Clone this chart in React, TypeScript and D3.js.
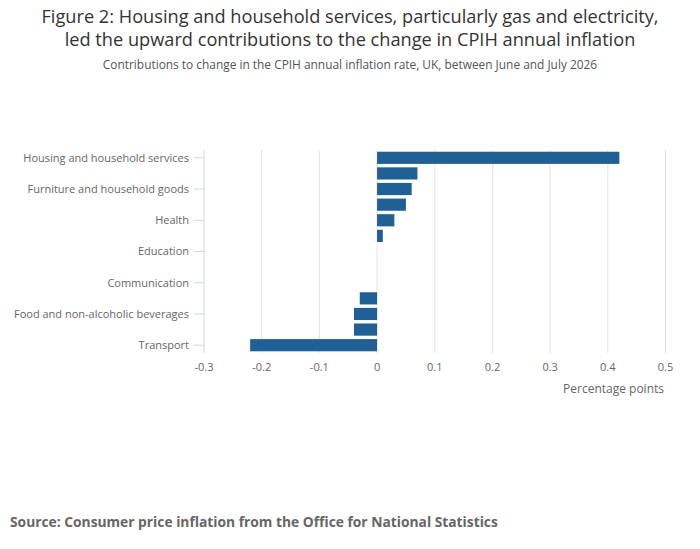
import React from "react";
import * as d3 from "d3";

// categories top to bottom, as ordered in the chart
const categories = [
  "Housing and household services",
  "Recreation and culture",
  "Furniture and household goods",
  "Restaurants and hotels",
  "Health",
  "Alcoholic beverages and tobacco",
  "Education",
  "Miscellaneous goods and services",
  "Communication",
  "Clothing and footwear",
  "Food and non-alcoholic beverages",
  "Insurance and financial services",
  "Transport",
];

// contribution to change, percentage points
const contributions = [0.42, 0.07, 0.06, 0.05, 0.03, 0.01, 0, 0, 0, -0.03, -0.04, -0.04, -0.22];

const xTicks = [-0.3, -0.2, -0.1, 0, 0.1, 0.2, 0.3, 0.4, 0.5];

const W = 700;
const H = 549;
const FONT = "'Open Sans', sans-serif";

export default function App() {
  const x = d3.scaleLinear().domain([-0.3, 0.5]).range([204, 665.5]);
  const y = d3
    .scaleBand()
    .domain(categories)
    .range([150, 353])
    .paddingInner(0.22)
    .paddingOuter(0.11);

  const labelled = categories.filter((_, i) => i % 2 === 0);

  return (
    <svg
      width={W}
      height={H}
      style={{ position: "absolute", left: 0, top: 0, fontFamily: FONT }}
    >
      <rect width={W} height={H} fill="#fff" />
      {/* title */}
      <text x={350} y={23} textAnchor="middle" fontSize={18.2} fill="#333">
        Figure 2: Housing and household services, particularly gas and electricity,
      </text>
      <text x={350} y={45.5} textAnchor="middle" fontSize={18.2} fill="#333">
        led the upward contributions to the change in CPIH annual inflation
      </text>
      <text x={350} y={69} textAnchor="middle" fontSize={11.9} fill="#555">
        Contributions to change in the CPIH annual inflation rate, UK, between June and July 2026
      </text>

      {/* grid */}
      {xTicks.map((t) =>
        t === -0.3 ? null : (
          <line
            key={"g" + t}
            x1={x(t)}
            x2={x(t)}
            y1={150}
            y2={353}
            stroke="#e3e3e3"
            strokeWidth={1}
          />
        )
      )}

      {/* bars */}
      {categories.map((c, i) => {
        const v = contributions[i];
        if (v === 0) return null;
        return (
          <rect
            key={c}
            x={x(Math.min(0, v))}
            width={Math.abs(x(v) - x(0))}
            y={y(c)}
            height={y.bandwidth()}
            fill="#206095"
          />
        );
      })}

      {/* y axis */}
      <line x1={204} x2={204} y1={150} y2={353} stroke="#ccd6eb" strokeWidth={1} />
      {labelled.map((c) => {
        const cy = (y(c) as number) + y.bandwidth() / 2;
        return (
          <g key={"l" + c}>
            <line x1={194} x2={204} y1={cy} y2={cy} stroke="#ccd6eb" strokeWidth={1} />
            <text x={189} y={cy} dy="0.35em" textAnchor="end" fontSize={11} fill="#666">
              {c}
            </text>
          </g>
        );
      })}

      {/* x tick labels */}
      {xTicks.map((t) => (
        <text
          key={"t" + t}
          x={x(t)}
          y={371}
          textAnchor="middle"
          fontSize={11}
          fill="#666"
        >
          {String(t)}
        </text>
      ))}
      <text x={664} y={393} textAnchor="end" fontSize={12} fill="#666">
        Percentage points
      </text>

      {/* source */}
      <text x={10} y={527} fontSize={13.8} fontWeight="bold" fill="#666">
        Source: Consumer price inflation from the Office for National Statistics
      </text>
    </svg>
  );
}
